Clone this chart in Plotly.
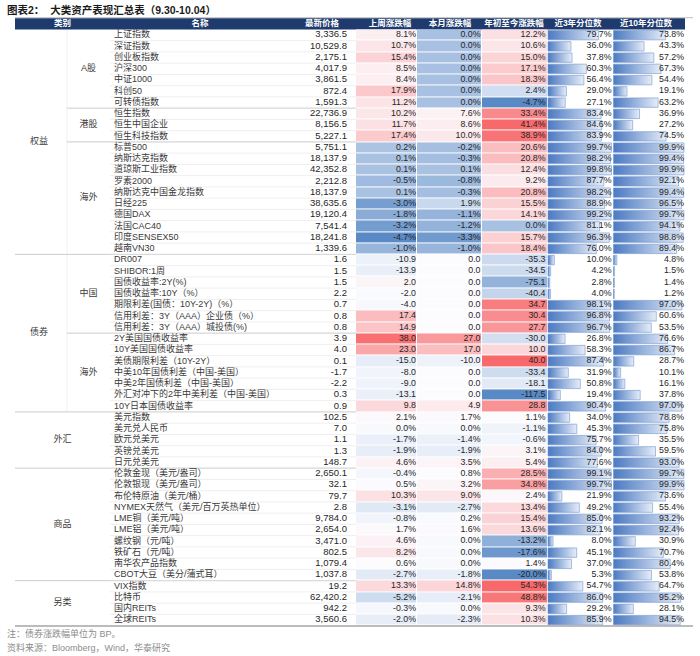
import numpy as np
import plotly.graph_objects as go

# ---------------- data ----------------
TITLE = "图表2：  大类资产表现汇总表（9.30-10.04）"
HEADERS = ["类别", "名称", "最新价格", "上周涨跌幅", "本月涨跌幅", "年初至今涨跌幅", "近3年分位数", "近10年分位数"]
NOTE = "注：债券涨跌幅单位为 BP。"
SOURCE = "资料来源：Bloomberg，Wind，华泰研究"

groups = ["权益", "债券", "外汇", "商品", "另类"]
group_sizes = [20, 14, 5, 10, 4]
subgroups = ["A股", "港股", "海外", "中国", "海外"]
subgroup_parent = ["权益", "权益", "权益", "债券", "债券"]
subgroup_sizes = [7, 3, 10, 7, 7]
bp_group = "债券"
color_scale_groups = [["权益"], ["债券"], ["外汇", "商品", "另类"]]

names = [
    "上证指数", "深证指数", "创业板指数", "沪深300", "中证1000", "科创50", "可转债指数",
    "恒生指数", "恒生中国企业", "恒生科技指数",
    "标普500", "纳斯达克指数", "道琼斯工业指数", "罗素2000", "纳斯达克中国金龙指数",
    "日经225", "德国DAX", "法国CAC40", "印度SENSEX50", "越南VN30",
    "DR007", "SHIBOR:1周", "国债收益率:2Y(%)", "国债收益率:10Y（%）",
    "期限利差(国债：10Y-2Y)（%）", "信用利差：3Y（AAA）企业债（%）", "信用利差：3Y（AAA）城投债(%)",
    "2Y美国国债收益率", "10Y美国国债收益率", "美债期限利差（10Y-2Y）",
    "中美10年国债利差（中国-美国）", "中美2年国债利差（中国-美国）",
    "外汇对冲下的2年中美利差（中国-美国）", "10Y日本国债收益率",
    "美元指数", "美元兑人民币", "欧元兑美元", "英镑兑美元", "日元兑美元",
    "伦敦金现（美元/盎司）", "伦敦银现（美元/盎司）", "布伦特原油（美元/桶）",
    "NYMEX天然气（美元/百万英热单位）", "LME铜（美元/吨）", "LME铝（美元/吨）",
    "螺纹钢（元/吨）", "铁矿石（元/吨）", "南华农产品指数", "CBOT大豆（美分/蒲式耳）",
    "VIX指数", "比特币", "国内REITs", "全球REITs",
]
price = [
    3336.5, 10529.8, 2175.1, 4017.9, 3861.5, 872.4, 1591.3,
    22736.9, 8156.5, 5227.1,
    5751.1, 18137.9, 42352.8, 2212.8, 18137.9, 38635.6, 19120.4, 7541.4, 18241.8, 1339.6,
    1.6, 1.5, 1.5, 2.2, 0.7, 0.8, 0.8,
    3.9, 4.0, 0.1, -1.7, -2.2, 0.3, 0.9,
    102.5, 7.0, 1.1, 1.3, 148.7,
    2650.1, 32.1, 79.7, 2.8, 9784.0, 2654.0, 3471.0, 802.5, 1079.4, 1037.8,
    19.2, 62420.2, 942.2, 3560.6,
]
chg_week = [
    8.1, 10.7, 15.4, 8.5, 8.4, 17.9, 11.2,
    10.2, 11.7, 17.4,
    0.2, 0.1, 0.1, -0.5, 0.1, -3.0, -1.8, -3.2, -4.7, -1.0,
    -10.9, -13.9, 2.0, -2.0, -4.0, 17.4, 14.9,
    38.0, 23.0, -15.0, -8.0, -9.0, -13.1, 9.8,
    2.1, 0.0, -1.7, -1.9, 4.6,
    -0.4, 0.5, 10.3, -3.1, -0.8, 1.7, 4.6, 8.2, 0.6, -2.7,
    13.3, -5.2, -0.3, -2.0,
]
chg_month = [
    0.0, 0.0, 0.0, 0.0, 0.0, 0.0, 0.0,
    7.6, 8.6, 10.0,
    -0.2, -0.3, 0.1, -0.8, -0.3, 1.9, -1.1, -1.2, -3.3, -1.0,
    0.0, 0.0, 0.0, 0.0, 0.0, 0.0, 0.0,
    27.0, 17.0, -10.0, 0.0, 0.0, 0.0, 4.9,
    1.7, 0.0, -1.4, -1.9, 3.5,
    0.8, 3.2, 9.0, -2.7, 0.2, 1.6, 0.0, 0.0, 0.0, -1.8,
    14.8, -2.1, 0.0, -2.3,
]
chg_ytd = [
    12.2, 10.6, 15.0, 17.1, 18.3, 2.4, -4.7,
    33.4, 41.4, 38.9,
    20.6, 20.8, 12.4, 9.2, 20.8, 15.5, 14.1, 0.0, 15.7, 18.4,
    -35.3, -34.5, -75.1, -40.4, 34.7, 30.4, 27.7,
    -30.0, 10.0, 40.0, -33.4, -18.1, -117.5, 28.8,
    1.1, -1.1, -0.6, 3.1, 5.4,
    28.5, 34.8, 2.4, 13.4, 15.4, 13.6, -13.2, -17.6, 1.4, -20.0,
    54.3, 48.8, 9.3, 10.3,
]
pct_3y = [
    79.7, 36.0, 37.8, 60.3, 56.4, 29.0, 27.1,
    83.4, 84.6, 83.9,
    99.7, 98.2, 99.8, 87.7, 98.2, 88.9, 99.2, 81.1, 96.3, 76.0,
    10.0, 4.2, 2.8, 4.0, 98.1, 96.8, 96.7,
    26.8, 58.3, 87.4, 31.9, 50.8, 19.4, 90.4,
    34.0, 45.3, 75.7, 84.0, 77.6,
    99.1, 99.7, 21.9, 49.2, 85.0, 82.1, 8.0, 45.1, 37.0, 5.3,
    54.7, 86.0, 29.2, 85.9,
]
pct_10y = [
    73.8, 43.3, 57.2, 67.3, 54.4, 19.1, 63.2,
    36.9, 27.2, 74.5,
    99.9, 99.4, 99.9, 92.1, 99.4, 96.5, 99.7, 94.1, 98.8, 89.4,
    4.8, 1.5, 1.4, 1.2, 97.0, 60.6, 53.5,
    76.6, 86.7, 28.7, 10.1, 16.1, 37.8, 97.0,
    78.8, 75.8, 35.5, 59.5, 93.0,
    99.7, 99.9, 73.6, 55.4, 93.2, 92.4, 30.9, 70.7, 80.4, 53.8,
    64.7, 95.2, 28.1, 94.5,
]

# ---------------- layout geometry (pixel space) ----------------
W, H = 700, 656
HEAD_TOP = 18.2
ROW_TOP = 29.4
ROW_H = 11.25
X_LEFT, X_RIGHT = 15, 685
X_SUB = 67
X_NAME = 110
X_PRICE_R = 356
HEAT_EDGES = [356, 417, 481.5, 547.5]
BAR3 = (548, 612.5)
BAR10 = (613.5, 685)

FONT = "Liberation Sans, Noto Sans CJK SC, sans-serif"
TXT = "#262626"
HEADER_BG = "#1F3B6E"
C_LOW, C_MID, C_HIGH = "#5A8AC6", "#FCFCFF", "#F8696B"
BAR_DARK, BAR_LIGHT, BAR_EDGE = "#4C7AC2", "#E6EDF8", "#6F96D0"

n = len(names)
row_group = list(np.repeat(groups, group_sizes))
row_edges = [ROW_TOP + i * ROW_H for i in range(n + 1)]
row_center = [ROW_TOP + (i + 0.5) * ROW_H for i in range(n)]

# ---------- heat colour values (Excel 3-colour scale: min / 50th pct / max) ----------
chg = np.array([chg_week, chg_month, chg_ytd], dtype=float).T  # n x 3
z = np.zeros_like(chg)
for gset in color_scale_groups:
    idx = [i for i in range(n) if row_group[i] in gset]
    vals = chg[idx].ravel()
    mn, md, mx = vals.min(), np.percentile(vals, 50), vals.max()
    for i in idx:
        for j in range(3):
            v = chg[i, j]
            if v <= md:
                z[i, j] = 0.5 * (v - mn) / (md - mn) if md > mn else 0.5
            else:
                z[i, j] = 0.5 + 0.5 * (v - md) / (mx - md)

fig = go.Figure()

fig.add_trace(go.Heatmap(
    z=z, x=HEAT_EDGES, y=row_edges, zmin=0, zmax=1,
    colorscale=[[0, C_LOW], [0.5, C_MID], [1, C_HIGH]],
    showscale=False, xgap=1, ygap=1, hoverinfo="skip",
))

# ---------- data bars ----------
for vals, (x0, x1) in [(pct_3y, BAR3), (pct_10y, BAR10)]:
    vmax = max(vals)
    for i, v in enumerate(vals):
        xe = x0 + v / vmax * (x1 - x0 - 1)
        yt, yb = row_edges[i] + 1.0, row_edges[i + 1] - 0.8
        fig.add_trace(go.Scatter(
            x=[x0, xe, xe, x0, x0], y=[yt, yt, yb, yb, yt],
            mode="lines", fill="toself",
            fillgradient=dict(type="horizontal",
                              colorscale=[[0, BAR_DARK], [1, BAR_LIGHT]]),
            line=dict(color=BAR_EDGE, width=0.6),
            hoverinfo="skip",
        ))

# ---------- text columns ----------
def text_col(x, texts, pos, size, color=TXT):
    fig.add_trace(go.Scatter(
        x=[x] * len(texts), y=row_center[:len(texts)], text=texts,
        mode="text", textposition=pos, hoverinfo="skip",
        marker=dict(size=1),
        textfont=dict(family=FONT, size=size, color=color),
    ))

def fmt_chg(v, g):
    return f"{v:.1f}" if g == bp_group else f"{v:.1f}%"

text_col(X_NAME + 4, names, "middle right", 9, "#3A3A3A")
text_col(347, [f"{v:,.1f}" for v in price], "middle left", 9.5)
text_col(416, [fmt_chg(v, g) for v, g in zip(chg_week, row_group)], "middle left", 8.8)
text_col(480.5, [fmt_chg(v, g) for v, g in zip(chg_month, row_group)], "middle left", 8.8)
text_col(545.5, [fmt_chg(v, g) for v, g in zip(chg_ytd, row_group)], "middle left", 8.8)
text_col(611.5, [f"{v:.1f}%" for v in pct_3y], "middle left", 8.8)
text_col(684, [f"{v:.1f}%" for v in pct_10y], "middle left", 8.8)

# ---------- group / subgroup labels ----------
shapes = []
gx, gy, gt = [], [], []
start = 0
for g, s in zip(groups, group_sizes):
    has_sub = g in subgroup_parent
    cx = (X_LEFT + X_SUB) / 2 - 2 if has_sub else (X_LEFT + X_NAME) / 2
    gx.append(cx)
    gy.append(ROW_TOP + (start + s / 2) * ROW_H)
    gt.append(g)
    if start > 0:
        shapes.append(dict(type="line", x0=X_LEFT, x1=X_PRICE_R,
                           y0=row_edges[start], y1=row_edges[start],
                           line=dict(color="#BFBFBF", width=0.8), layer="below"))
    if has_sub:
        shapes.append(dict(type="line", x0=X_SUB, x1=X_SUB,
                           y0=row_edges[start], y1=row_edges[start + s],
                           line=dict(color="#E6E6E6", width=0.6), layer="below"))
    start += s

gstart = {}
acc = 0
for g, s in zip(groups, group_sizes):
    gstart[g] = acc
    acc += s
sub_pos = {g: gstart[g] for g in groups}
for sg, parent, s in zip(subgroups, subgroup_parent, subgroup_sizes):
    st = sub_pos[parent]
    gx.append((X_SUB + X_NAME) / 2)
    gy.append(ROW_TOP + (st + s / 2) * ROW_H)
    gt.append(sg)
    if st > gstart[parent]:
        shapes.append(dict(type="line", x0=X_SUB, x1=X_PRICE_R,
                           y0=row_edges[st], y1=row_edges[st],
                           line=dict(color="#BFBFBF", width=0.8), layer="below"))
    sub_pos[parent] = st + s

fig.add_trace(go.Scatter(
    x=gx, y=gy, text=gt, mode="text", textposition="middle center",
    hoverinfo="skip", textfont=dict(family=FONT, size=9, color="#3A3A3A"),
))

# row separators in name / price columns
for i in range(1, n):
    shapes.append(dict(type="line", x0=X_NAME, x1=X_PRICE_R,
                       y0=row_edges[i], y1=row_edges[i],
                       line=dict(color="#E3E3E3", width=0.6), layer="below"))

# header
shapes.append(dict(type="line", x0=X_LEFT, x1=693, y0=HEAD_TOP - 0.5, y1=HEAD_TOP - 0.5,
                   line=dict(color="#BFBFBF", width=1), layer="below"))
shapes.append(dict(type="rect", x0=X_LEFT, x1=X_RIGHT, y0=HEAD_TOP, y1=ROW_TOP,
                   fillcolor=HEADER_BG, line=dict(width=0), layer="below"))
# bottom border
shapes.append(dict(type="line", x0=X_LEFT, x1=693, y0=row_edges[-1] + 0.3, y1=row_edges[-1] + 0.3,
                   line=dict(color="#A6A6A6", width=1.5), layer="above"))

head_x = [62.5, 200, 322, 390, 450, 514, 578, 646]
fig.add_trace(go.Scatter(
    x=head_x, y=[(HEAD_TOP + ROW_TOP) / 2] * len(HEADERS),
    text=[f"<b>{h}</b>" for h in HEADERS], mode="text", textposition="middle center",
    hoverinfo="skip", textfont=dict(family=FONT, size=8.5, color="white"),
))

annotations = [
    dict(x=5, y=10, xref="x", yref="y", text=f"<b>{TITLE}</b>", showarrow=False,
         xanchor="left", yanchor="middle", font=dict(family=FONT, size=10.5, color="#1A1A1A")),
    dict(x=5, y=633.5, xref="x", yref="y", text=NOTE, showarrow=False,
         xanchor="left", yanchor="middle", font=dict(family=FONT, size=9, color="#8C8C8C")),
    dict(x=5, y=647, xref="x", yref="y", text=SOURCE, showarrow=False,
         xanchor="left", yanchor="middle", font=dict(family=FONT, size=9, color="#8C8C8C")),
]

fig.update_layout(
    width=W, height=H, margin=dict(l=0, r=0, t=0, b=0),
    paper_bgcolor="white", plot_bgcolor="white", showlegend=False,
    xaxis=dict(range=[0, W], visible=False, fixedrange=True),
    yaxis=dict(range=[H, 0], visible=False, fixedrange=True),
    shapes=shapes, annotations=annotations,
)

fig.write_html(
    "out.html",
    config={"displayModeBar": False},
    post_script="document.body.style.margin='0';document.body.style.overflow='hidden';",
)
